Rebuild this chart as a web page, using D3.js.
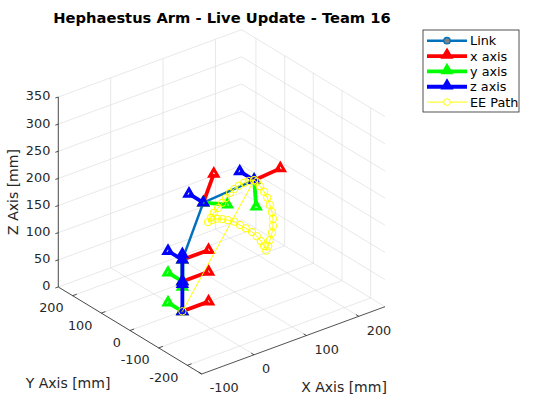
<!DOCTYPE html>
<html>
<head>
<meta charset="utf-8">
<script src="https://cdn.jsdelivr.net/npm/d3@7"></script>
<style>
body { margin: 0; background: #fff; }
text { font-family: "DejaVu Sans", sans-serif; fill: #262626; }
</style>
</head>
<body>
<div id="chart"></div>
<script>
// axis limits and ticks
let xLim = [-100, 250], yLim = [-250, 250], zLim = [0, 350];
let xTicks = [-100, 0, 100, 200];
let yTicks = [-200, -100, 0, 100, 200];
let zTicks = [0, 50, 100, 150, 200, 250, 300, 350];

// joint positions (mm)
let jointX = [0, 0, 0, 40, 137];
let jointY = [0, 0, 0, 0, 0];
let jointZ = [0, 55, 95, 186, 193];

// frame axis tips (mm), one per joint frame
let xTipX = [50, 50, 50, 60, 187];
let xTipY = [0, 0, 0, 0, 0];
let xTipZ = [0, 55, 95, 232, 197];
let yTipX = [0, 0, 0, 86, 141];
let yTipY = [50, 50, 0, 0, 0];
let yTipZ = [0, 55, 45, 166, 143];
let zTipX = [0, 0, 0, 40, 137];
let zTipY = [0, 0, 50, 50, 50];
let zTipZ = [50, 105, 95, 186, 193];

// end effector path (mm)
let pathX = [0, 137, 127, 118, 108, 99, 91, 83, 76, 68, 60, 55, 49,
	57, 66, 76, 87, 99, 110, 121, 133, 142, 150, 156, 160,
	164, 167, 171, 173, 173, 171, 167, 162, 156, 148, 142, 137];
let pathY = pathX.map(function () { return 0; });
let pathZ = [0, 193, 195, 195, 193, 190, 186, 179, 173, 166, 160, 153, 147,
	148, 147, 143, 137, 130, 120, 110, 99, 88, 76, 65, 55,
	62, 72, 84, 96, 109, 122, 137, 152, 165, 178, 188, 193];

let legendNames = ["Link", "x axis", "y axis", "z axis", "EE Path"];
let legendColors = ["#0072BD", "#FF0000", "#00FF00", "#0000FF", "#FFFF00"];

let W = 560, H = 420;
let front = [201.7, 374]; // screen point of (xmin, ymin, zmin)

let xScale = d3.scaleLinear().domain(xLim).range([[0, 0], [183.3, -67.3]]);
let yScale = d3.scaleLinear().domain(yLim).range([[0, 0], [-143.4, -87]]);
let zScale = d3.scaleLinear().domain(zLim).range([0, -190]);

function proj(x, y, z) {
	let [ax, ay] = xScale(x);
	let [bx, by] = yScale(y);
	return [front[0] + ax + bx, front[1] + ay + by + zScale(z)];
}

let svg = d3.select("#chart").append("svg")
	.attr("width", W)
	.attr("height", H);

let line3 = d3.line();

// grid
let gridSegs = [];
xTicks.forEach(function (t) {
	gridSegs.push([[t, yLim[0], zLim[0]], [t, yLim[1], zLim[0]]]);
	gridSegs.push([[t, yLim[1], zLim[0]], [t, yLim[1], zLim[1]]]);
});
yTicks.forEach(function (t) {
	gridSegs.push([[xLim[0], t, zLim[0]], [xLim[1], t, zLim[0]]]);
	gridSegs.push([[xLim[1], t, zLim[0]], [xLim[1], t, zLim[1]]]);
});
zTicks.forEach(function (t) {
	gridSegs.push([[xLim[0], yLim[1], t], [xLim[1], yLim[1], t]]);
	gridSegs.push([[xLim[1], yLim[1], t], [xLim[1], yLim[0], t]]);
});
svg.append("g").selectAll("path")
	.data(gridSegs)
	.enter().append("path")
	.attr("d", function (d) {
		return line3(d.map(function (p) { return proj(p[0], p[1], p[2]); }));
	})
	.attr("fill", "none")
	.attr("stroke", "#dedede")
	.attr("stroke-width", 0.7);

// axis lines
let axisG = svg.append("g");
let axisLines = [
	[[xLim[0], yLim[0], 0], [xLim[1], yLim[0], 0]],
	[[xLim[0], yLim[0], 0], [xLim[0], yLim[1], 0]],
	[[xLim[0], yLim[1], zLim[0]], [xLim[0], yLim[1], zLim[1]]]
];
axisG.selectAll("path.ax")
	.data(axisLines)
	.enter().append("path")
	.attr("d", function (d) {
		return line3(d.map(function (p) { return proj(p[0], p[1], p[2]); }));
	})
	.attr("stroke", "#262626")
	.attr("stroke-width", 0.8);

// ticks + labels
xTicks.forEach(function (t) {
	let a = proj(t, yLim[0], 0), b = proj(t, yLim[0] + 10, 0);
	axisG.append("line").attr("x1", a[0]).attr("y1", a[1]).attr("x2", b[0]).attr("y2", b[1])
		.attr("stroke", "#262626").attr("stroke-width", 0.8);
	axisG.append("text").attr("x", a[0] + 8).attr("y", a[1] + 14)
		.attr("dy", "0.35em").style("font-size", "12.8px").text(t);
});
yTicks.forEach(function (t) {
	let a = proj(xLim[0], t, 0), b = proj(xLim[0] + 8, t, 0);
	axisG.append("line").attr("x1", a[0]).attr("y1", a[1]).attr("x2", b[0]).attr("y2", b[1])
		.attr("stroke", "#262626").attr("stroke-width", 0.8);
	axisG.append("text").attr("x", a[0] - 9).attr("y", a[1] + 12)
		.attr("dy", "0.35em").attr("text-anchor", "end").style("font-size", "12.8px").text(t);
});
zTicks.forEach(function (t) {
	let a = proj(xLim[0], yLim[1], t);
	axisG.append("line").attr("x1", a[0]).attr("y1", a[1]).attr("x2", a[0] - 3).attr("y2", a[1] + 1)
		.attr("stroke", "#262626").attr("stroke-width", 0.8);
	axisG.append("text").attr("x", a[0] - 8).attr("y", a[1] - 1)
		.attr("dy", "0.35em").attr("text-anchor", "end").style("font-size", "12.8px").text(t);
});

// axis labels and title
svg.append("text").attr("x", 344).attr("y", 387).attr("dy", "0.35em")
	.attr("text-anchor", "middle").style("font-size", "14px").text("X Axis [mm]");
svg.append("text").attr("x", 68).attr("y", 383).attr("dy", "0.35em")
	.attr("text-anchor", "middle").style("font-size", "14px").text("Y Axis [mm]");
svg.append("text").attr("transform", "translate(13,192) rotate(-90)").attr("dy", "0.35em")
	.attr("text-anchor", "middle").style("font-size", "14px").text("Z Axis [mm]");
svg.append("text").attr("x", 222).attr("y", 18).attr("dy", "0.35em")
	.attr("text-anchor", "middle").style("font-size", "14.7px").style("font-weight", "bold")
	.style("fill", "#000").text("Hephaestus Arm - Live Update - Team 16");

let tri = d3.symbol(d3.symbolTriangle, 30);

// link
let joints = jointX.map(function (x, i) { return proj(x, jointY[i], jointZ[i]); });
let dataG = svg.append("g");
dataG.append("path").attr("d", line3(joints))
	.attr("fill", "none").attr("stroke", legendColors[0]).attr("stroke-width", 2.5);
dataG.selectAll("circle.j")
	.data(joints)
	.enter().append("circle")
	.attr("cx", function (d) { return d[0]; })
	.attr("cy", function (d) { return d[1]; })
	.attr("r", 3.2)
	.attr("fill", "#808080")
	.attr("stroke", legendColors[0])
	.attr("stroke-width", 1.3);

// frame axes
let tips = [[xTipX, xTipY, xTipZ], [yTipX, yTipY, yTipZ], [zTipX, zTipY, zTipZ]];
tips.forEach(function (tp, k) {
	let col = legendColors[k + 1];
	jointX.forEach(function (x, i) {
		let a = joints[i];
		let b = proj(tp[0][i], tp[1][i], tp[2][i]);
		dataG.append("path").attr("d", line3([a, b]))
			.attr("stroke", col).attr("stroke-width", 3.8);
		[a, b].forEach(function (p) {
			dataG.append("path").attr("d", tri)
				.attr("transform", "translate(" + p[0] + "," + p[1] + ")")
				.attr("fill", "none").attr("stroke", col).attr("stroke-width", 3)
				.attr("stroke-linejoin", "miter");
		});
	});
});

// EE path
let pathPts = pathX.map(function (x, i) { return proj(x, pathY[i], pathZ[i]); });
dataG.append("path").attr("d", line3(pathPts))
	.attr("fill", "none").attr("stroke", legendColors[4]).attr("stroke-width", 1);
dataG.selectAll("circle.p")
	.data(pathPts)
	.enter().append("circle")
	.attr("cx", function (d) { return d[0]; })
	.attr("cy", function (d) { return d[1]; })
	.attr("r", 3.7)
	.attr("fill", "none")
	.attr("stroke", legendColors[4])
	.attr("stroke-width", 1);

// legend
let leg = svg.append("g");
leg.append("rect").attr("x", 423).attr("y", 30).attr("width", 96).attr("height", 82)
	.attr("fill", "#fff").attr("stroke", "#262626").attr("stroke-width", 0.8);
legendNames.forEach(function (name, i) {
	let y = 40.7 + i * 15.35;
	let col = legendColors[i];
	leg.append("line").attr("x1", 427).attr("x2", 467).attr("y1", y).attr("y2", y)
		.attr("stroke", col).attr("stroke-width", i === 0 ? 2.5 : (i === 4 ? 1 : 3.8));
	if (i === 0) {
		leg.append("circle").attr("cx", 447).attr("cy", y).attr("r", 3.2)
			.attr("fill", "#808080").attr("stroke", col).attr("stroke-width", 1.3);
	} else if (i === 4) {
		leg.append("circle").attr("cx", 447).attr("cy", y).attr("r", 3.3)
			.attr("fill", "#fff").attr("stroke", col).attr("stroke-width", 1);
	} else {
		leg.append("path").attr("d", tri)
			.attr("transform", "translate(447," + (y - 1) + ")")
			.attr("fill", col).attr("stroke", col).attr("stroke-width", 2.8);
	}
	leg.append("text").attr("x", 470).attr("y", y).attr("dy", "0.35em")
		.style("font-size", "12.8px").style("fill", "#000").text(name);
});
</script>
</body>
</html>
